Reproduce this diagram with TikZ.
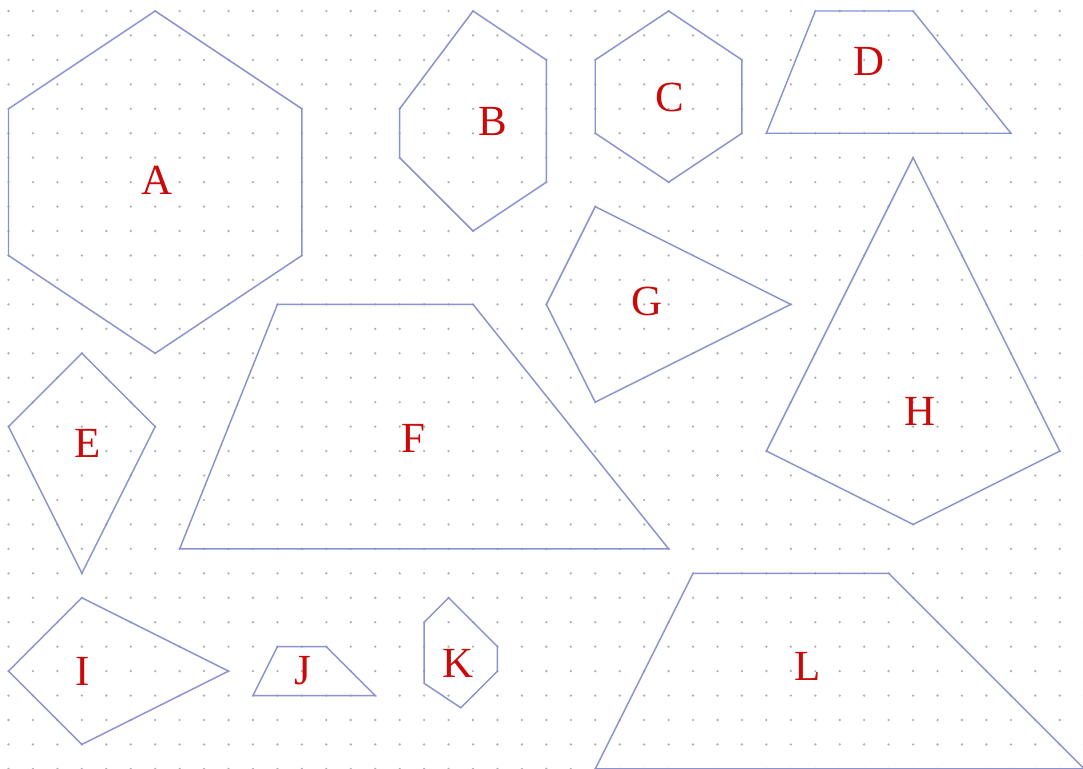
\documentclass[tikz,border=0pt]{standalone}
\usepackage{fontspec}
\setmainfont{Liberation Serif}
\usepackage{tikz}
\usetikzlibrary{calc}
\definecolor{edgeblue}{RGB}{138,146,208}
\definecolor{dotgray}{RGB}{175,175,185}
\definecolor{labelred}{RGB}{200,10,10}
\tikzset{
  figure/.style={edgeblue,line width=0.85pt,line join=miter},
  griddot/.style={dotgray},
  letter/.style={text=labelred,inner sep=0pt,font=\fontsize{25}{29}\selectfont}
}

\begin{document}
\begin{tikzpicture}[x=0.5cm,y=-0.5cm]
  \useasboundingbox (-0.348,-0.45) rectangle (43.95,31.0);
  \clip (-0.348,-0.45) rectangle (43.95,31.0);
  \fill[white] (-0.348,-0.45) rectangle (43.95,31.0);

  % Dot grid
  \foreach \i in {0,...,44}
    \foreach \j in {0,...,31}
      \fill[griddot] (\i,\j) circle (0.75pt);

  % Hexagons
  \draw[figure] (6,0) -- (12,4) -- (12,10) -- (6,14) -- (0,10) -- (0,4) -- cycle;
  \draw[figure] (19,0) -- (22,2) -- (22,7) -- (19,9) -- (16,6) -- (16,4) -- cycle;
  \draw[figure] (27,0) -- (30,2) -- (30,5) -- (27,7) -- (24,5) -- (24,2) -- cycle;
  \draw[figure] (18,24) -- (20,26) -- (20,27) -- (18.5,28.5) -- (17,27.5) -- (17,25) -- cycle;

  % Trapezia
  \draw[figure] (33,0) -- (37,0) -- (41,5) -- (31,5) -- cycle;
  \draw[figure] (11,12) -- (19,12) -- (27,22) -- (7,22) -- cycle;
  \draw[figure] (11,26) -- (13,26) -- (15,28) -- (10,28) -- cycle;
  \draw[figure] (28,23) -- (36,23) -- (44,31) -- (24,31) -- cycle;

  % Kites
  \draw[figure] (3,14) -- (6,17) -- (3,23) -- (0,17) -- cycle;
  \draw[figure] (24,8) -- (32,12) -- (24,16) -- (22,12) -- cycle;
  \draw[figure] (37,6) -- (43,18) -- (37,21) -- (31,18) -- cycle;
  \draw[figure] (3,24) -- (9,27) -- (3,30) -- (0,27) -- cycle;

  % Labels
  \node[letter] (labA) at (6.06,6.91) {A};
  \node[letter] (labB) at (19.8,4.5) {B};
  \node[letter] (labC) at (27.05,3.52) {C};
  \node[letter] (labD) at (35.2,2.05) {D};
  \node[letter] (labE) at (3.25,17.67) {E};
  \node[letter] (labF) at (16.55,17.5) {F};
  \node[letter] (labG) at (26.1,11.9) {G};
  \node[letter] (labH) at (37.3,16.36) {H};
  \node[letter] (labI) at (3.05,27.03) {I};
  \node[letter] (labJ) at (12.06,27) {J};
  \node[letter] (labK) at (18.4,26.7) {K};
  \node[letter] (labL) at (32.7,26.8) {L};
\end{tikzpicture}
\end{document}
